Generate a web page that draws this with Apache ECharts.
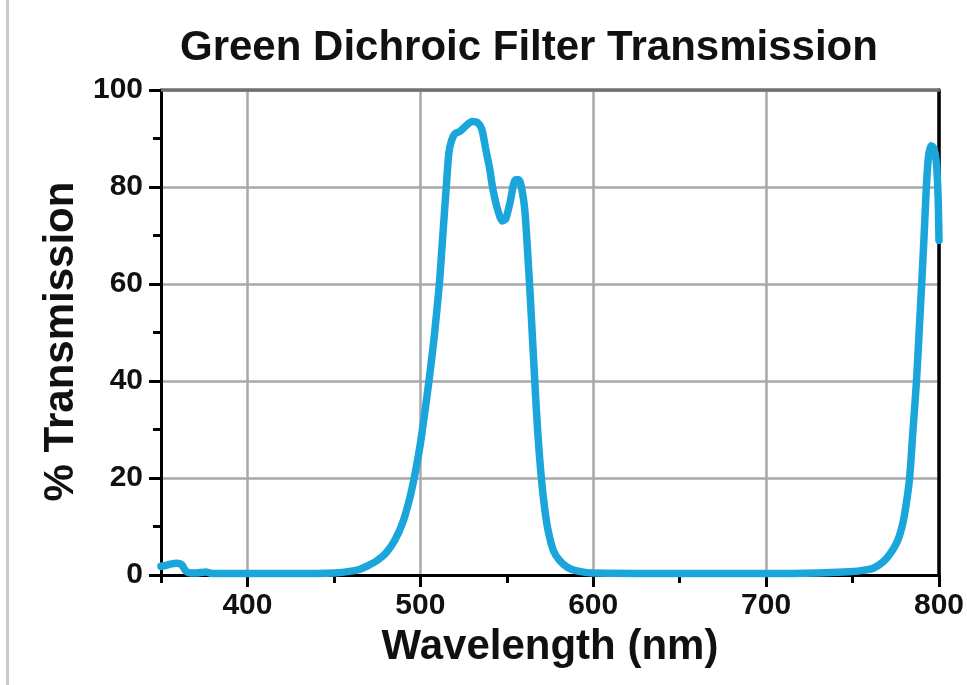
<!DOCTYPE html>
<html>
<head>
<meta charset="utf-8">
<script src="https://cdn.jsdelivr.net/npm/echarts@6/dist/echarts.min.js"></script>
<style>
  html, body { margin: 0; padding: 0; background: #ffffff; }
  #chart { width: 967px; height: 685px; }
</style>
</head>
<body>
<div id="chart"></div>
<script>
// Transmission spectrum of a green dichroic filter
const wavelengthNm = [
  350, 353, 356, 359, 362, 364, 366, 370, 376, 380, 400, 420, 440, 450, 460, 465,
  470, 475, 480, 485, 490, 494, 497, 500, 502, 505, 508, 511, 513, 515, 516.5, 518,
  520, 523, 526, 530, 533, 535.5, 538, 540, 542, 545, 547.5, 549.5, 552, 555, 557, 559,
  560.5, 562, 563.5, 565, 566.5, 568, 570, 572, 574, 577, 580.5, 585, 590, 600, 650, 700,
  730, 745, 755, 762, 768, 772, 776, 779, 781, 783, 785, 787, 788.5, 790, 791.4, 792.7,
  794, 795.5, 797, 798.5, 799.5, 800
];
const transmissionPct = [
  1.8, 2.0, 2.3, 2.4, 2.1, 1.0, 0.5, 0.4, 0.6, 0.3, 0.3, 0.3, 0.3, 0.4, 0.8, 1.2,
  2, 3, 4.5, 7, 11, 16, 21, 27, 32, 40, 49, 60, 70, 80, 87, 89.5,
  91, 91.5, 92.5, 93.5, 93.3, 92, 87.5, 84, 79.5, 75, 73, 73.5, 77, 81.5, 81.5, 79,
  75, 67, 58, 48, 38, 29, 20, 13.5, 9, 5, 3, 1.6, 0.9, 0.4, 0.3, 0.3,
  0.4, 0.6, 0.9, 1.4, 2.8, 4.5, 7, 10.5, 14.5, 20, 30, 40, 50, 60, 70, 80,
  86.5, 88.5, 88, 85, 78, 69
];
const xMajorTicks = [400, 500, 600, 700, 800];
const yMajorTicks = [0, 20, 40, 60, 80, 100];

const FONT = "'Liberation Sans', Arial, Helvetica, sans-serif";
const seriesData = wavelengthNm.map((w, i) => [w, transmissionPct[i]]);

const chart = echarts.init(document.getElementById('chart'), null, { renderer: 'canvas' });

const gridColor = '#a9a9a9';

chart.setOption({
  backgroundColor: '#ffffff',
  animation: false,
  title: {
    text: 'Green Dichroic Filter Transmission',
    left: 175,
    top: 22,
    textStyle: { fontFamily: FONT, fontWeight: 'bold', fontSize: 42, color: '#111111' }
  },
  graphic: [{
    type: 'rect',
    shape: { x: 6, y: 0, width: 3, height: 685 },
    style: { fill: '#c9c9c9' },
    silent: true
  }],
  grid: { left: 161, right: 27, top: 90, bottom: 110, containLabel: false },
  xAxis: [
    {
      type: 'value', min: 350, max: 800, interval: 50,
      position: 'bottom',
      name: 'Wavelength (nm)',
      nameLocation: 'middle',
      nameGap: 51,
      nameTextStyle: { fontFamily: FONT, fontWeight: 'bold', fontSize: 42, color: '#111111' },
      axisLine: { show: true, onZero: false, lineStyle: { color: '#000000', width: 3 } },
      axisTick: { show: true, length: 12, customValues: xMajorTicks, lineStyle: { color: '#000000', width: 3 } },
      axisLabel: { show: true, margin: 16, customValues: xMajorTicks,
        fontFamily: FONT, fontWeight: 'bold', fontSize: 30, color: '#111111' },
      splitLine: { show: true, lineStyle: { color: gridColor, width: 2.5 } }
    },
    {
      type: 'value', min: 350, max: 800, interval: 50,
      position: 'bottom',
      axisLine: { show: false, onZero: false },
      axisTick: { show: true, length: 8, lineStyle: { color: '#000000', width: 3 } },
      axisLabel: { show: false },
      splitLine: { show: false }
    },
    {
      type: 'value', min: 350, max: 800, interval: 50,
      position: 'top',
      axisLine: { show: true, onZero: false, lineStyle: { color: '#707070', width: 3.5 } },
      axisTick: { show: false },
      axisLabel: { show: false },
      splitLine: { show: false }
    }
  ],
  yAxis: [
    {
      type: 'value', min: 0, max: 100, interval: 10,
      position: 'left',
      name: '% Transmission',
      nameLocation: 'middle',
      nameGap: 76,
      nameRotate: 90,
      nameTextStyle: { fontFamily: FONT, fontWeight: 'bold', fontSize: 42, color: '#111111',
        padding: [0, 18, 0, 0] },
      axisLine: { show: true, onZero: false, lineStyle: { color: '#000000', width: 3 } },
      axisTick: { show: true, length: 12, customValues: yMajorTicks, lineStyle: { color: '#000000', width: 3 } },
      axisLabel: { show: true, margin: 18, customValues: yMajorTicks,
        fontFamily: FONT, fontWeight: 'bold', fontSize: 30, color: '#111111' },
      splitLine: { show: true, lineStyle: { color: gridColor, width: 2.5 } }
    },
    {
      type: 'value', min: 0, max: 100, interval: 10,
      position: 'left',
      axisLine: { show: false, onZero: false },
      axisTick: { show: true, length: 8, lineStyle: { color: '#000000', width: 3 } },
      axisLabel: { show: false },
      splitLine: { show: false }
    },
    {
      type: 'value', min: 0, max: 100, interval: 10,
      position: 'right',
      axisLine: { show: true, onZero: false, lineStyle: { color: '#000000', width: 3.5 } },
      axisTick: { show: false },
      axisLabel: { show: false },
      splitLine: { show: false }
    }
  ],
  series: [{
    type: 'line',
    xAxisIndex: 0,
    yAxisIndex: 0,
    data: seriesData,
    showSymbol: false,
    smooth: 0.25,
    clip: true,
    lineStyle: { color: '#1ba6db', width: 7.5, cap: 'round', join: 'round' }
  }]
});
</script>
</body>
</html>
